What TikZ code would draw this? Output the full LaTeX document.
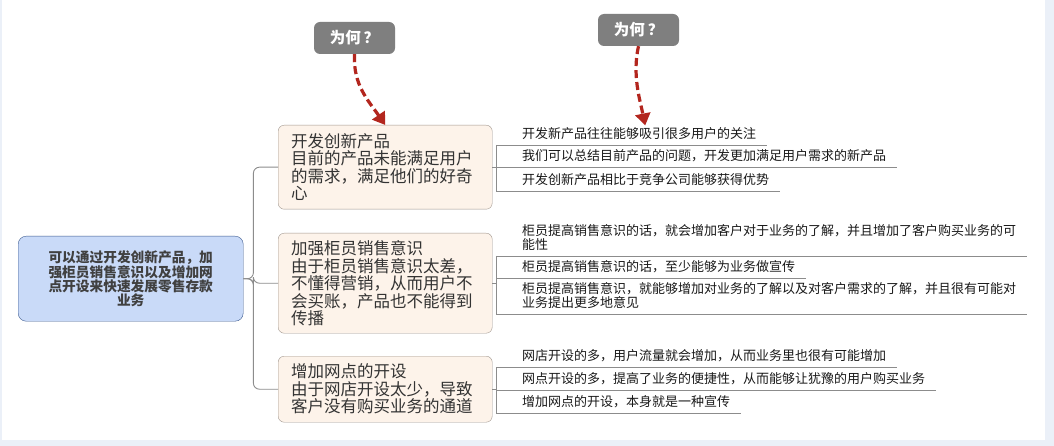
\documentclass[tikz,border=0pt]{standalone}
\usepackage{fontspec}
\newfontfamily\cjk{Noto Sans CJK SC}
\usetikzlibrary{positioning, arrows.meta}
\definecolor{rootfill}{HTML}{C9DAF8}
\definecolor{rootline}{HTML}{3C5A8E}
\definecolor{topicfill}{HTML}{FDF3EA}
\definecolor{topicline}{HTML}{A0968E}
\definecolor{linegray}{HTML}{8C8C8C}
\definecolor{whyfill}{HTML}{7F7F7F}
\definecolor{whyred}{HTML}{B3261E}
\definecolor{band}{HTML}{EBF0F8}
\tikzset{root/.style={draw=rootline, fill=rootfill, rounded corners=8pt, anchor=north west, minimum width=225pt, minimum height=85pt, inner sep=0pt, align=center, text=black!75, font=\cjk\bfseries\fontsize{13.7}{13.6}\selectfont},
  topic/.style={draw=topicline, fill=topicfill, rounded corners=6pt, anchor=north west, text width=188pt, inner xsep=13pt, align=left, text=black!80, font=\cjk\fontsize{16.5}{17.5}\selectfont},
  leaf/.style={anchor=south west, inner xsep=0pt, inner ysep=5pt, align=left, text=black!90, font=\cjk\fontsize{13}{14}\selectfont},
  why/.style={fill=whyfill, rounded corners=6pt, minimum width=81pt, minimum height=32pt, text=white, font=\cjk\bfseries\fontsize{15.5}{16}\selectfont},
  branch/.style={draw=linegray, line width=0.9pt},
  whyarrow/.style={draw=whyred, line width=3.2pt, dash pattern=on 8pt off 4pt, -{Triangle[width=15pt,length=12pt]}},
}

\begin{document}
\begin{tikzpicture}[x=1pt, y=-1pt]
        \useasboundingbox (0,0) rectangle (1054,446);
        \fill[band] (0,0) rectangle (1054,446);
        \fill[white] (2,0) rectangle (1045,440);

        \node[root] (r) at (18,236) {可以通过开发创新产品，加\\强柜员销售意识以及增加网\\点开设来快速发展零售存款\\业务};

        \node[topic, minimum height=84pt] (t1) at (278,125) {开发创新产品\\目前的产品未能满足用户\\的需求，满足他们的好奇\\心};
        \node[topic, minimum height=100pt] (t2) at (278,233) {加强柜员销售意识\\由于柜员销售意识太差，\\不懂得营销，从而用户不\\会买账，产品也不能得到\\传播};
        \node[topic, minimum height=66pt] (t3) at (278,356) {增加网点的开设\\由于网店开设太少，导致\\客户没有购买业务的通道};

        \node[leaf] (l11) at (522,145) {开发新产品往往能够吸引很多用户的关注};
        \node[leaf] (l12) at (522,167) {我们可以总结目前产品的问题，开发更加满足用户需求的新产品};
        \node[leaf] (l13) at (522,191) {开发创新产品相比于竞争公司能够获得优势};
        \node[leaf] (l21) at (522,256) {柜员提高销售意识的话，就会增加客户对于业务的了解，并且增加了客户购买业务的可\\能性};
        \node[leaf] (l22) at (522,278) {柜员提高销售意识的话，至少能够为业务做宣传};
        \node[leaf] (l23) at (522,314) {柜员提高销售意识，就能够增加对业务的了解以及对客户需求的了解，并且很有可能对\\业务提出更多地意见};
        \node[leaf] (l31) at (522,367) {网店开设的多，用户流量就会增加，从而业务里也很有可能增加};
        \node[leaf] (l32) at (522,390) {网点开设的多，提高了业务的便捷性，从而能够让犹豫的用户购买业务};
        \node[leaf] (l33) at (522,413) {增加网点的开设，本身就是一种宣传};

        \node[why] (w1) at (354.5,38) {为何\hspace{3pt}？};
        \node[why] (w2) at (638.5,30) {为何\hspace{3pt}？};

        % root to topics
        \draw[branch, rounded corners=6pt] (r.east) -- ++(10,0) |- (t1.west);
        \draw[branch, rounded corners=6pt] (r.east) -- ++(10,0) |- (t2.west);
        \draw[branch, rounded corners=6pt] (r.east) -- ++(10,0) |- (t3.west);

        % topics to leaves
        \draw[branch] (t1.east) -- ++(4,0);
        \draw[branch] (t2.east) -- ++(4,0);
        \draw[branch] (t3.east) -- ++(4,0);
        \draw[branch] ([xshift=-26pt]l11.south west) -- ([xshift=-26pt]l13.south west);
        \draw[branch] ([xshift=-26pt]l21.south west) -- ([xshift=-26pt]l23.south west);
        \draw[branch] ([xshift=-26pt]l31.south west) -- ([xshift=-26pt]l33.south west);
        \foreach \l in {l11,l12,l13,l21,l22,l23,l31,l32,l33}
                \draw[branch] ([xshift=-26pt]\l.south west) -- ([xshift=11pt]\l.south east);

        % why arrows
        \draw[whyarrow] (w1.south) .. controls (353,85) and (368,100) .. (t1.north);
        \draw[whyarrow] (w2.south) .. controls (632,75) and (640,100) .. ([xshift=6pt,yshift=-3pt]l11.north);
\end{tikzpicture}
\end{document}
